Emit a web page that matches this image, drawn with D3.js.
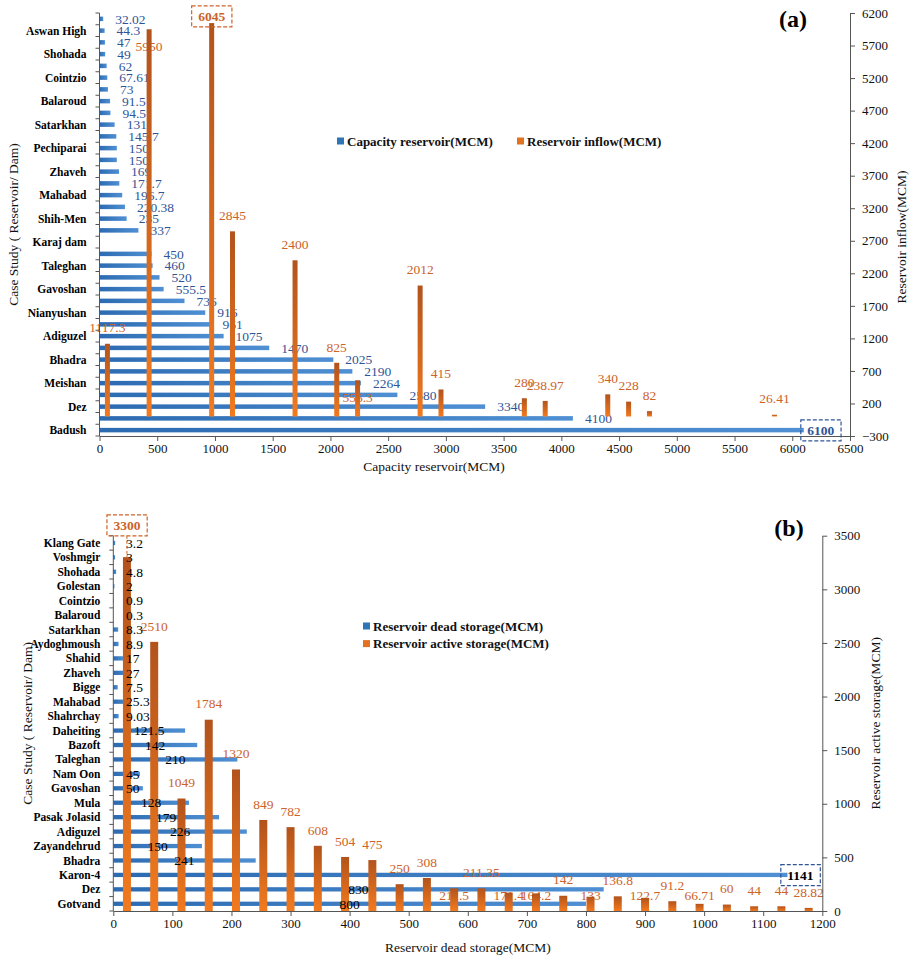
<!DOCTYPE html>
<html lang="en">
<head>
  <meta charset="UTF-8">
  <title>Reservoir capacity, inflow and storage</title>
  <script src="https://d3js.org/d3.v7.min.js"></script>
  <style>
    body { margin: 0; background: #fff; }
    text { font-family: "Liberation Serif", "Times New Roman", serif; }
    .cat { font-size: 11.5px; font-weight: bold; fill: #000; }
    .axis path, .axis line { stroke: #555; }
    .title { font-size: 13.5px; fill: #111; }
    .val { font-size: 13.5px; }
    .legend { font-size: 13px; font-weight: bold; fill: #111; }
    .panel { font-size: 24px; font-weight: bold; fill: #000; }
  </style>
</head>
<body>
<svg id="chart" width="911" height="961"></svg>
<script>
// ---- panel (a): rows listed from the bottom up (Excel order) ----
const damsA = ["Badush", "", "Dez", "", "Meishan", "", "Bhadra", "", "Adiguzel", "",
  "Nianyushan", "", "Gavoshan", "", "Taleghan", "", "Karaj dam", "", "Shih-Men", "",
  "Mahabad", "", "Zhaveh", "", "Pechiparai", "", "Satarkhan", "", "Balaroud", "",
  "Cointzio", "", "Shohada", "", "Aswan High", ""];
const capacity = [6100, 4100, 3340, 2580, 2264, 2190, 2025, 1470, 1075, 961,
  916, 736, 555.5, 520, 460, 450, null, 337, 235, 220.38,
  196.7, 171.7, 169, 150, 150, 145.7, 131, 94.5, 91.5, 73,
  67.61, 62, 49, 47, 44.3, 32.02];
const inflow = [1117.3, null, 5950, null, null, 6045, 2845, null, null, 2400,
  null, 825, 556.3, null, null, 2012, 415, null, null, null,
  280, 238.97, null, null, 340, 228, 82, null, null, null,
  null, null, 26.41, null, null, null];
const xTicksA = [0, 500, 1000, 1500, 2000, 2500, 3000, 3500, 4000, 4500, 5000, 5500, 6000, 6500];
const yTicksA = [-300, 200, 700, 1200, 1700, 2200, 2700, 3200, 3700, 4200, 4700, 5200, 5700, 6200];

// ---- panel (b) ----
const damsB = ["Gotvand", "Dez", "Karon-4", "Bhadra", "Zayandehrud", "Adiguzel", "Pasak Jolasid",
  "Mula", "Gavoshan", "Nam Oon", "Taleghan", "Bazoft", "Daheiting", "Shahrchay", "Mahabad",
  "Bigge", "Zhaveh", "Shahid", "Aydoghmoush", "Satarkhan", "Balaroud", "Cointzio", "Golestan",
  "Shohada", "Voshmgir", "Klang Gate"];
const deadStorage = [800, 830, 1141, 241, 150, 226, 179, 128, 50, 45, 210, 142, 121.5, 9.03,
  25.3, 7.5, 27, 17, 8.9, 8.3, 0.3, 0.9, 2, 4.8, 3, 3.2];
const activeStorage = [3300, 2510, 1049, 1784, 1320, 849, 782, 608, 504, 475, 250, 308, 211.5,
  211.35, 171.4, 164.2, 142, 133, 136.8, 122.7, 91.2, 66.71, 60, 44, 44, 28.82];
const xTicksB = [0, 100, 200, 300, 400, 500, 600, 700, 800, 900, 1000, 1100, 1200];
const yTicksB = [0, 500, 1000, 1500, 2000, 2500, 3000, 3500];

const SERIF = "Liberation Serif, Times New Roman, serif";
const BLUE_TXT = "#2f5597", ORANGE_TXT = "#cc6328";

const svg = d3.select("#chart");
svg.append("rect").attr("width", 911).attr("height", 961).attr("fill", "#fff");

const defs = svg.append("defs");
const bg = defs.append("linearGradient").attr("id", "blueGrad")
  .attr("x1", 0).attr("x2", 1).attr("y1", 0).attr("y2", 0);
bg.append("stop").attr("offset", "0%").attr("stop-color", "#2c6bb1");
bg.append("stop").attr("offset", "100%").attr("stop-color", "#4f8fd3");
const og = defs.append("linearGradient").attr("id", "orangeGrad")
  .attr("x1", 0).attr("x2", 0).attr("y1", 0).attr("y2", 1);
og.append("stop").attr("offset", "0%").attr("stop-color", "#b2531c");
og.append("stop").attr("offset", "100%").attr("stop-color", "#f27a1f");

// shared frame: left category axis, bottom value axis, right value axis
function drawFrame(g, c) {
  g.append("g").attr("class", "axis")
    .attr("transform", `translate(0,${c.bottom})`)
    .call(d3.axisBottom(c.x).tickValues(c.xTicks).tickFormat(d3.format("d"))
      .tickSize(5).tickSizeOuter(0).tickPadding(3))
    .attr("font-family", SERIF).attr("font-size", 13);
  g.append("g").attr("class", "axis")
    .attr("transform", `translate(${c.right},0)`)
    .call(d3.axisRight(c.yR).tickValues(c.yTicks).tickFormat(d3.format("d"))
      .tickSize(5).tickSizeOuter(0).tickPadding(7))
    .attr("font-family", SERIF).attr("font-size", 13);
  g.selectAll(".axis text").attr("fill", "#111");

  const bounds = c.rows.domain().map(i => c.rows(i)).concat([c.top - c.rows.bandwidth()]);
  g.append("line").attr("x1", c.left).attr("x2", c.left).attr("y1", c.top).attr("y2", c.bottom)
    .attr("stroke", "#555");
  g.selectAll(".rowtick").data(bounds).join("line")
    .attr("x1", c.left - 4).attr("x2", c.left)
    .attr("y1", d => d + c.rows.bandwidth()).attr("y2", d => d + c.rows.bandwidth())
    .attr("stroke", "#555");
  g.selectAll(".cat").data(c.names.map((n, i) => ({ n, i })).filter(d => d.n))
    .join("text").attr("class", "cat")
    .attr("x", c.left - c.catGap)
    .attr("y", d => c.rows(d.i) + c.rows.bandwidth() / 2)
    .attr("dy", "0.35em").attr("text-anchor", "end")
    .text(d => d.n);

  g.append("text").attr("class", "title")
    .attr("x", c.xTitleX).attr("y", c.bottom + c.xTitleDy)
    .attr("text-anchor", "middle").text(c.xTitle);
  g.append("text").attr("class", "title")
    .attr("transform", `translate(${c.yTitleX},${(c.top + c.bottom) / 2}) rotate(-90)`)
    .attr("text-anchor", "middle").attr("dy", "0.35em").text("Case Study ( Reservoir/ Dam)");
  g.append("text").attr("class", "title")
    .attr("transform", `translate(${c.yRTitleX},${c.yRTitleY}) rotate(-90)`)
    .attr("text-anchor", "middle").attr("dy", "0.35em").text(c.yRTitle);
}

function dashedBox(g, textSel, color) {
  const b = textSel.node().getBBox();
  g.append("rect")
    .attr("x", b.x - 6.5).attr("y", b.y - 3).attr("width", b.width + 13).attr("height", b.height + 6)
    .attr("fill", "none").attr("stroke", color).attr("stroke-width", 1.2)
    .attr("stroke-dasharray", "4,2");
  return b;
}

function legend(g, x, y, items, dx) {
  items.forEach((it, k) => {
    const ox = x + (dx ? k * dx : 0), oy = y + (dx ? 0 : k * 17.6);
    g.append("rect").attr("x", ox).attr("y", oy - 3.5).attr("width", 7).attr("height", 7)
      .attr("fill", it.color);
    g.append("text").attr("class", "legend").attr("x", ox + 10).attr("y", oy)
      .attr("dy", "0.35em").text(it.label);
  });
}

// ================= panel (a) =================
const A = { left: 99.5, right: 850, top: 13, bottom: 436 };
const gA = svg.append("g");
const xA = d3.scaleLinear().domain([0, 6500]).range([A.left, A.right]);
const rowsA = d3.scaleBand().domain(d3.range(damsA.length)).range([A.bottom, A.top]);
const yRA = d3.scaleLinear().domain([-300, 6200]).range([A.bottom, A.top]);
const colsA = d3.scaleBand().domain(d3.range(damsA.length)).range([A.left - 2.5, A.right - 2.5]);
const capData = capacity.map((v, i) => ({ v, i })).filter(d => d.v != null);
const inData = inflow.map((v, i) => ({ v, i })).filter(d => d.v != null);
const maxCap = d3.max(capacity), maxIn = d3.max(inflow);
const barHA = 4.5, colWA = 5;

gA.selectAll(".cap").data(capData).join("rect")
  .attr("x", xA(0))
  .attr("y", d => rowsA(d.i) + rowsA.bandwidth() / 2 - barHA / 2)
  .attr("width", d => xA(d.v) - xA(0)).attr("height", barHA)
  .attr("fill", "url(#blueGrad)");

gA.selectAll(".capLbl").data(capData.filter(d => d.v !== maxCap)).join("text")
  .attr("class", "val").attr("fill", BLUE_TXT)
  .attr("x", d => xA(d.v) + 12)
  .attr("y", d => rowsA(d.i) + rowsA.bandwidth() / 2)
  .attr("dy", "0.35em").text(d => d.v);

// a couple of inflow labels were dragged down in the original
const dropA = new Set([2, 12]);
gA.selectAll(".inLbl").data(inData.filter(d => d.v !== maxIn)).join("text")
  .attr("class", "val").attr("fill", ORANGE_TXT).attr("text-anchor", "middle")
  .attr("x", d => colsA(d.i) + colsA.bandwidth() / 2)
  .attr("y", d => yRA(d.v) - 16 + (dropA.has(d.i) ? 33 : 0))
  .attr("dy", "0.35em").text(d => d.v);

gA.selectAll(".inflow").data(inData).join("rect")
  .attr("x", d => colsA(d.i) + colsA.bandwidth() / 2 - colWA / 2)
  .attr("y", d => yRA(d.v)).attr("width", colWA)
  .attr("height", d => yRA(0) - yRA(d.v))
  .attr("fill", "url(#orangeGrad)");

drawFrame(gA, {
  ...A, x: xA, yR: yRA, rows: rowsA, names: damsA, xTicks: xTicksA, yTicks: yTicksA, catGap: 13,
  xTitle: "Capacity reservoir(MCM)", xTitleX: 434, xTitleDy: 35, yTitleX: 13,
  yRTitle: "Reservoir inflow(MCM)", yRTitleX: 901, yRTitleY: 237
});

// highlighted maxima
const iMaxIn = inflow.indexOf(maxIn);
const t6045 = gA.append("text").attr("class", "val").attr("font-weight", "bold").attr("font-size", "13px")
  .attr("fill", ORANGE_TXT).attr("text-anchor", "middle")
  .attr("x", colsA(iMaxIn) + colsA.bandwidth() / 2).attr("y", yRA(maxIn) - 7)
  .attr("dy", "0.35em").text(maxIn);
dashedBox(gA, t6045, ORANGE_TXT);
const iMaxCap = capacity.indexOf(maxCap);
const t6100 = gA.append("text").attr("class", "val").attr("font-weight", "bold").attr("font-size", "13px")
  .attr("fill", BLUE_TXT).attr("text-anchor", "middle")
  .attr("x", xA(maxCap) + 17).attr("y", rowsA(iMaxCap) + rowsA.bandwidth() / 2)
  .attr("dy", "0.35em").text(maxCap);
dashedBox(gA, t6100, BLUE_TXT);

legend(gA, 337, 141, [
  { color: "#2e75b6", label: "Capacity reservoir(MCM)" },
  { color: "#e4711f", label: "Reservoir inflow(MCM)" }
], 180);
gA.append("text").attr("class", "panel").attr("x", 793).attr("y", 27)
  .attr("text-anchor", "middle").text("(a)");

// ================= panel (b) =================
const B = { left: 113.3, right: 822.3, top: 535.7, bottom: 911 };
const gB = svg.append("g");
const xB = d3.scaleLinear().domain([0, 1200]).range([B.left, B.right]);
const rowsB = d3.scaleBand().domain(d3.range(damsB.length)).range([B.bottom, B.top]);
const yRB = d3.scaleLinear().domain([0, 3500]).range([B.bottom, B.top]);
const colsB = d3.scaleBand().domain(d3.range(damsB.length)).range([B.left, B.right]);
const deadData = deadStorage.map((v, i) => ({ v, i }));
const actData = activeStorage.map((v, i) => ({ v, i }));
const maxDead = d3.max(deadStorage), maxAct = d3.max(activeStorage);
const barHB = 4.3, colWB = 8;

gB.selectAll(".dead").data(deadData).join("rect")
  .attr("x", xB(0))
  .attr("y", d => rowsB(d.i) + rowsB.bandwidth() / 2 - barHB / 2)
  .attr("width", d => xB(d.v) - xB(0)).attr("height", barHB)
  .attr("fill", "url(#blueGrad)");

// labels that sit down at the axis level in the original
const dropB = new Set([12, 14, 15, 17, 19, 21]);
gB.selectAll(".actLbl").data(actData.filter(d => d.v !== maxAct)).join("text")
  .attr("class", "val").attr("fill", ORANGE_TXT).attr("text-anchor", "middle")
  .attr("x", d => colsB(d.i) + colsB.bandwidth() / 2)
  .attr("y", d => dropB.has(d.i) ? yRB(0) - 16 : yRB(d.v) - 16)
  .attr("dy", "0.35em").text(d => d.v);

gB.selectAll(".active").data(actData).join("rect")
  .attr("x", d => colsB(d.i) + colsB.bandwidth() / 2 - colWB / 2)
  .attr("y", d => yRB(d.v)).attr("width", colWB)
  .attr("height", d => yRB(0) - yRB(d.v))
  .attr("fill", "url(#orangeGrad)");

// dead storage labels: centred on the bar, but never closer than 12.7px to the axis
gB.selectAll(".deadLbl").data(deadData.filter(d => d.v !== maxDead)).join("text")
  .attr("class", "val").attr("fill", "#000")
  .attr("y", d => rowsB(d.i) + rowsB.bandwidth() / 2)
  .attr("dy", "0.35em").text(d => d.v)
  .attr("x", function (d) {
    const w = this.getComputedTextLength();
    return Math.max(xB(d.v / 2) - w / 2, xB(0) + 12.7);
  });

drawFrame(gB, {
  ...B, x: xB, yR: yRB, rows: rowsB, names: damsB, xTicks: xTicksB, yTicks: yTicksB, catGap: 13,
  xTitle: "Reservoir dead storage(MCM)", xTitleX: (B.left + B.right) / 2, xTitleDy: 41, yTitleX: 27,
  yRTitle: "Reservoir active storage(MCM)", yRTitleX: 875, yRTitleY: (B.top + B.bottom) / 2
});

const iMaxAct = activeStorage.indexOf(maxAct);
const cx3300 = colsB(iMaxAct) + colsB.bandwidth() / 2;
const t3300 = gB.append("text").attr("class", "val").attr("font-weight", "bold").attr("font-size", "13px")
  .attr("fill", ORANGE_TXT).attr("text-anchor", "middle")
  .attr("x", cx3300).attr("y", yRB(maxAct) - 32)
  .attr("dy", "0.35em").text(maxAct);
const b3300 = dashedBox(gB, t3300, ORANGE_TXT);
gB.append("line").attr("x1", cx3300).attr("x2", cx3300)
  .attr("y1", b3300.y + b3300.height + 3).attr("y2", yRB(maxAct))
  .attr("stroke", ORANGE_TXT).attr("stroke-dasharray", "3,2");

const iMaxDead = deadStorage.indexOf(maxDead);
const t1141 = gB.append("text").attr("class", "val").attr("font-weight", "bold").attr("font-size", "13px")
  .attr("fill", "#000").attr("text-anchor", "middle")
  .attr("x", xB(maxDead) + 13).attr("y", rowsB(iMaxDead) + rowsB.bandwidth() / 2)
  .attr("dy", "0.35em").text(maxDead);
dashedBox(gB, t1141, BLUE_TXT);

legend(gB, 363, 626, [
  { color: "#2e75b6", label: "Reservoir dead storage(MCM)" },
  { color: "#e4711f", label: "Reservoir active storage(MCM)" }
]);
gB.append("text").attr("class", "panel").attr("x", 789).attr("y", 536)
  .attr("text-anchor", "middle").text("(b)");
</script>
</body>
</html>
